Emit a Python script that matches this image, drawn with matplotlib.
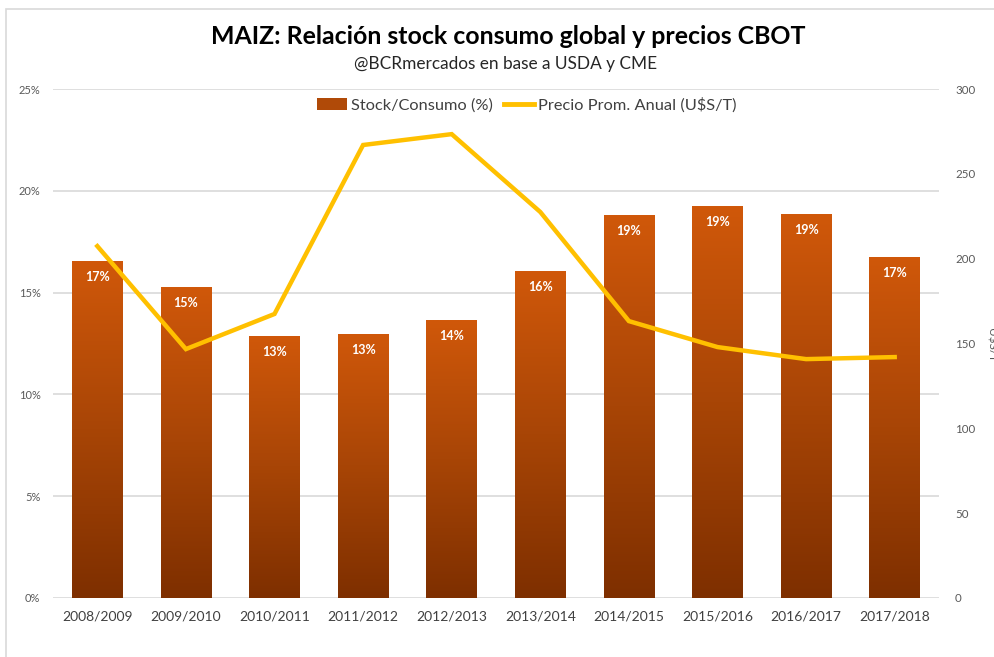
import matplotlib
matplotlib.use("Agg")
import matplotlib.pyplot as plt
import numpy as np
from matplotlib.patches import Rectangle, Patch
from matplotlib.lines import Line2D
from matplotlib.colors import LinearSegmentedColormap

plt.rcParams['font.family'] = ['Lato', 'DejaVu Sans']

categories = ["2008/2009", "2009/2010", "2010/2011", "2011/2012", "2012/2013",
              "2013/2014", "2014/2015", "2015/2016", "2016/2017", "2017/2018"]
stock_consumo = [16.55, 15.27, 12.87, 12.97, 13.65, 16.06, 18.81, 19.25, 18.86, 16.75]
precio = [207.4, 146.7, 167.4, 267.0, 273.4, 227.5, 163.2, 147.9, 140.8, 142.0]
left_ticks = [0, 5, 10, 15, 20, 25]
right_ticks = [0, 50, 100, 150, 200, 250, 300]

W, H = 995, 657
fig = plt.figure(figsize=(W / 100, H / 100), dpi=100)
fig.patch.set_facecolor("white")

# chart border
fig.add_artist(Rectangle((6 / W, -0.1), 1.2, 1 - 9 / H + 0.1, transform=fig.transFigure,
                         fill=False, edgecolor="#D9D9D9", linewidth=1.2))

ax = fig.add_axes([53 / W, 1 - 598 / H, (939 - 53) / W, (598 - 89) / H])
x = np.arange(len(categories))
bars = ax.bar(x, stock_consumo, width=0.57, color="none", edgecolor="none", zorder=2)

cmap = LinearSegmentedColormap.from_list("bar", ["#7E2F00", "#A84506", "#D0580A"])
grad = np.linspace(0, 1, 256).reshape(-1, 1)
for b, v in zip(bars, stock_consumo):
    x0 = b.get_x()
    x1 = x0 + b.get_width()
    im = ax.imshow(grad, cmap=cmap, origin="lower", aspect="auto",
                   extent=[x0, x1, 0, v], zorder=2)
    im.set_clip_path(b)
    ax.text(b.get_x() + b.get_width() / 2, v - 0.5, f"{round(v):d}%",
            ha="center", va="top", color="white", fontsize=9, fontweight="bold", zorder=4)

ax.set_xlim(-0.5, len(categories) - 0.5)
ax.set_ylim(0, 25)
ax.set_yticks(left_ticks)
ax.set_yticklabels([f"{t}%" for t in left_ticks])
ax.set_xticks(x)
ax.set_xticklabels(categories)
ax.yaxis.grid(True, color="#D9D9D9", linewidth=1.2, zorder=0)
ax.set_axisbelow(True)
for s in ax.spines.values():
    s.set_visible(False)
ax.tick_params(axis="both", length=0, colors="#595959")
ax.tick_params(axis="y", labelsize=8, pad=9)
ax.tick_params(axis="x", labelsize=10, pad=9)
for t in ax.get_xticklabels():
    t.set_color("#404040")

ax2 = ax.twinx()
ax2.plot(x, precio, color="#FFC000", linewidth=3.2, solid_joinstyle="miter", zorder=5)
ax2.set_ylim(0, 300)
ax2.set_yticks(right_ticks)
ax2.tick_params(axis="y", length=0, colors="#595959", labelsize=8.3, pad=11.5)
for s in ax2.spines.values():
    s.set_visible(False)

fig.text(991 / W, 1 - 345 / H, "U$S/T", rotation=270, ha="center", va="center",
         color="#595959", fontsize=8.5)

handles = [Patch(facecolor="#B04A08", edgecolor="none"),
           Line2D([0], [0], color="#FFC000", linewidth=3.5)]
leg = ax2.legend(handles, ["Stock/Consumo (%)", "Precio Prom. Anual (U$S/T)"],
                 loc="upper center", bbox_to_anchor=(0.535, 1.012), ncol=2, frameon=False,
                 fontsize=11.8, handlelength=1.8, handletextpad=0.25, columnspacing=0.7)
for t in leg.get_texts():
    t.set_color("#404040")

fig.text(508 / W, 1 - 37 / H, "MAIZ: Relación stock consumo global y precios CBOT",
         ha="center", va="center", fontsize=17.9, fontweight="bold", color="#000000")
fig.text(506 / W, 1 - 64 / H, "@BCRmercados en base a USDA y CME",
         ha="center", va="center", fontsize=12.4, color="#262626")

fig.savefig("out.png", dpi=100, facecolor="white")
